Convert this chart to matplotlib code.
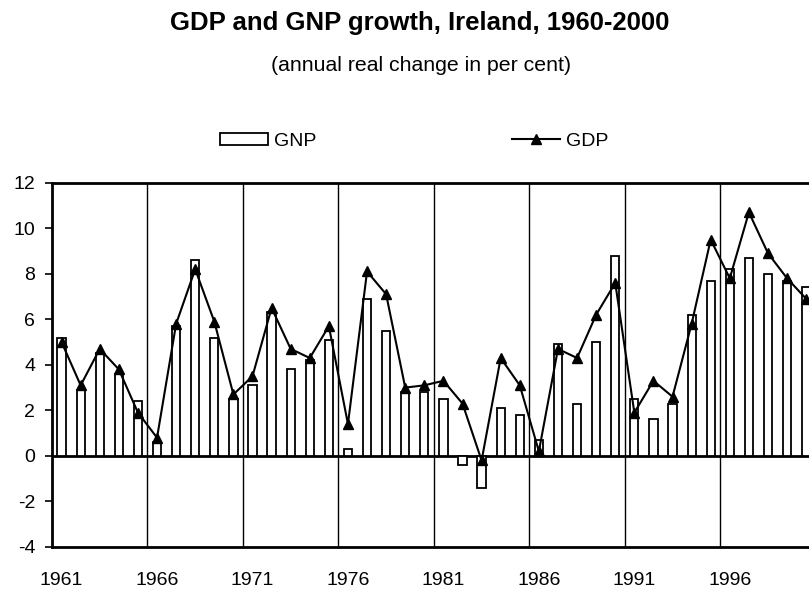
import matplotlib
matplotlib.use("Agg")
import matplotlib.pyplot as plt
import numpy as np

plt.rcParams['font.family'] = ['Liberation Sans', 'DejaVu Sans']

years = list(range(1961, 2001))
gnp = [5.2, 2.9, 4.5, 3.6, 2.4, 0.6, 5.7, 8.6, 5.2, 2.5,
       3.1, 6.3, 3.8, 4.2, 5.1, 0.3, 6.9, 5.5, 2.8, 2.8,
       2.5, -0.4, -1.4, 2.1, 1.8, 0.7, 4.9, 2.3, 5.0, 8.8,
       2.5, 1.6, 2.3, 6.2, 7.7, 8.2, 8.7, 8.0, 7.7, 7.4]
gdp = [5.0, 3.1, 4.7, 3.8, 1.9, 0.8, 5.8, 8.2, 5.9, 2.7,
       3.5, 6.5, 4.7, 4.3, 5.7, 1.4, 8.1, 7.1, 3.0, 3.1,
       3.3, 2.3, -0.2, 4.3, 3.1, 0.2, 4.7, 4.3, 6.2, 7.6,
       1.9, 3.3, 2.6, 5.8, 9.5, 7.8, 10.7, 8.9, 7.8, 6.9]
tick_years = [1961, 1966, 1971, 1976, 1981, 1986, 1991, 1996]
y_ticks = [-4, -2, 0, 2, 4, 6, 8, 10, 12]

fig = plt.figure(figsize=(8.09, 5.93), dpi=100)
ax = fig.add_axes([0.0643, 0.0776, 0.944, 0.6143])

x = np.arange(len(years))
bars = ax.bar(x, gnp, width=0.43, color='white', edgecolor='black', linewidth=1.3, zorder=3, label='GNP')
line, = ax.plot(x, gdp, color='black', linewidth=1.5, marker='^', markersize=7.5,
                markerfacecolor='black', zorder=4, label='GDP')

ax.set_xlim(-0.5, len(years) - 0.5)
ax.set_ylim(-4, 12)
ax.set_yticks(y_ticks)
ax.set_yticklabels([str(v) for v in y_ticks])
pos = [years.index(t) for t in tick_years]
ax.set_xticks(pos)
ax.set_xticklabels([str(t) for t in tick_years])
ax.set_xticks(np.arange(4.5, len(years) - 1, 5), minor=True)
ax.grid(True, which='minor', axis='x', color='black', linewidth=1.0, zorder=1)
ax.tick_params(axis='x', which='both', length=0, pad=18, labelsize=14)
ax.tick_params(axis='y', length=5, width=1.2, pad=7, labelsize=14, direction='out')
ax.axhline(0, color='black', linewidth=2, zorder=2)
for s in ['top', 'left', 'bottom']:
    ax.spines[s].set_linewidth(2)
ax.spines['right'].set_visible(False)

fig.text(0.519, 0.9494, 'GDP and GNP growth, Ireland, 1960-2000', ha='center', va='baseline',
         fontsize=18.5, fontweight='bold')
fig.text(0.520, 0.880, '(annual real change in per cent)', ha='center', va='baseline', fontsize=15.3)

fig.legend(handles=[bars, line], labels=['GNP', 'GDP'], ncol=2, loc='center',
           bbox_to_anchor=(0.512, 0.762), frameon=False, fontsize=14,
           handlelength=2.45, handleheight=0.55, columnspacing=10.1, handletextpad=0.3)

fig.savefig('out.png', dpi=100)
